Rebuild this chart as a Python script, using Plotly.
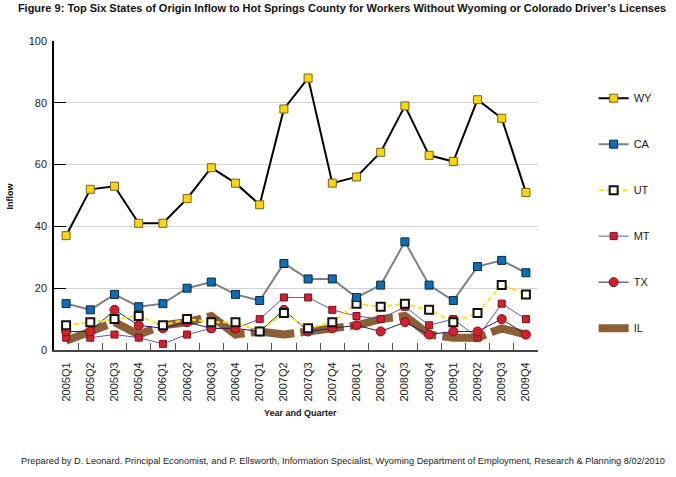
import plotly.graph_objects as go

quarters = ["2005Q1", "2005Q2", "2005Q3", "2005Q4", "2006Q1", "2006Q2", "2006Q3", "2006Q4",
            "2007Q1", "2007Q2", "2007Q3", "2007Q4", "2008Q1", "2008Q2", "2008Q3", "2008Q4",
            "2009Q1", "2009Q2", "2009Q3", "2009Q4"]
wy = [37, 52, 53, 41, 41, 49, 59, 54, 47, 78, 88, 54, 56, 64, 79, 63, 61, 81, 75, 51]
ca = [15, 13, 18, 14, 15, 20, 22, 18, 16, 28, 23, 23, 17, 21, 35, 21, 16, 27, 29, 25]
ut = [8, 9, 10, 11, 8, 10, 9, 9, 6, 12, 7, 9, 15, 14, 15, 13, 9, 12, 21, 18]
mt = [4, 4, 5, 4, 2, 5, 7, 7, 10, 17, 17, 13, 11, 10, 14, 8, 10, 4, 15, 10]
tx = [6, 6, 13, 8, 7, 9, 7, 7, 6, 13, 6, 7, 8, 6, 9, 5, 6, 6, 10, 5]
il = [3, 6, 9, 5, 8, 9, 11, 5, 6, 5, 6, 7, 8, 10, 11, 5, 4, 4, 7, 5]
y_ticks = [0, 20, 40, 60, 80, 100]

FONT = "Liberation Sans, Arial, sans-serif"

fig = go.Figure()

fig.add_trace(go.Scatter(x=quarters, y=il, name="IL", mode="lines", legendgroup="IL", legendrank=6,
                         line=dict(color="#8C5F37", width=8, dash="44px,6px")))
fig.add_trace(go.Scatter(x=quarters, y=mt, name="MT", mode="lines+markers", legendgroup="MT", legendrank=4,
                         line=dict(color="#5A5AB4", width=1),
                         marker=dict(symbol="square", size=7, color="#D4202E",
                                     line=dict(color="#7A1018", width=1))))
fig.add_trace(go.Scatter(x=quarters, y=tx, name="TX", mode="lines+markers", legendgroup="TX", legendrank=5,
                         line=dict(color="#1E1E6E", width=1),
                         marker=dict(symbol="circle", size=9, color="#D4202E",
                                     line=dict(color="#7A1018", width=1))))
fig.add_trace(go.Scatter(x=quarters, y=ut, name="UT", mode="lines+markers", legendgroup="UT", legendrank=3,
                         line=dict(color="#FFE21A", width=2, dash="5px,3px"),
                         marker=dict(symbol="square", size=8, color="#FFFFFF",
                                     line=dict(color="#111111", width=2))))
fig.add_trace(go.Scatter(x=quarters, y=ca, name="CA", mode="lines+markers", legendgroup="CA", legendrank=2,
                         line=dict(color="#808080", width=2),
                         marker=dict(symbol="square", size=8, color="#0B6FB5",
                                     line=dict(color="#10263C", width=1))))
fig.add_trace(go.Scatter(x=quarters, y=wy, name="WY", mode="lines+markers", legendgroup="WY", legendrank=1,
                         line=dict(color="#000000", width=2),
                         marker=dict(symbol="square", size=8, color="#FFD700",
                                     line=dict(color="#6E6230", width=1))))

fig.update_layout(
    width=676, height=477,
    margin=dict(l=54, r=138, t=41, b=127),
    paper_bgcolor="white", plot_bgcolor="white",
    font=dict(family=FONT, size=11, color="#222222"),
    title=dict(text="<b>Figure 9: Top Six States of Origin Inflow to Hot Springs County for Workers Without Wyoming or Colorado Driver\u2019s Licenses</b>",
               font=dict(family=FONT, size=11, color="#111111"),
               x=0.506, xanchor="center", xref="container", y=1 - 8 / 477, yanchor="middle", yref="container"),
    showlegend=True,
    legend=dict(x=1.115, xanchor="left", y=0.862, yanchor="top", tracegroupgap=27,
                font=dict(family=FONT, size=11, color="#222222"), bgcolor="rgba(0,0,0,0)"),
    xaxis=dict(type="category", tickson="boundaries", ticks="inside", ticklen=7, tickcolor="#555555",
               showline=True, linecolor="#444444", linewidth=2, showgrid=False, tickangle=-90,
               tickfont=dict(family=FONT, size=11, color="#222222"), ticklabelstandoff=6,
               range=[-0.5, 19.5]),
    yaxis=dict(range=[0, 100], tickvals=y_ticks, ticks="inside", ticklen=12, tickcolor="#000000",
               showline=True, linecolor="#000000", linewidth=1.5, showgrid=True, gridcolor="#D3D3D3",
               gridwidth=1, zeroline=False, tickfont=dict(family=FONT, size=11, color="#222222"),
               ticklabelstandoff=3),
    annotations=[
        dict(text="<b>Year and Quarter</b>", xref="paper", yref="paper", x=0.51, y=-0.204,
             showarrow=False, font=dict(family=FONT, size=9, color="#111111"), xanchor="center", yanchor="middle"),
        dict(text="<b>Inflow</b>", xref="paper", yref="paper", x=-0.091, y=0.5, textangle=-90,
             showarrow=False, font=dict(family=FONT, size=9, color="#111111"), xanchor="center", yanchor="middle"),
        dict(text="Prepared by D. Leonard. Principal Economist, and P. Ellsworth, Information Specialist, Wyoming Department of Employment, Research &amp; Planning 8/02/2010",
             xref="paper", yref="paper", x=0.597, y=-0.359, showarrow=False,
             font=dict(family=FONT, size=9.25, color="#222222"), xanchor="center", yanchor="middle"),
    ],
)

fig.write_html("out.html")
